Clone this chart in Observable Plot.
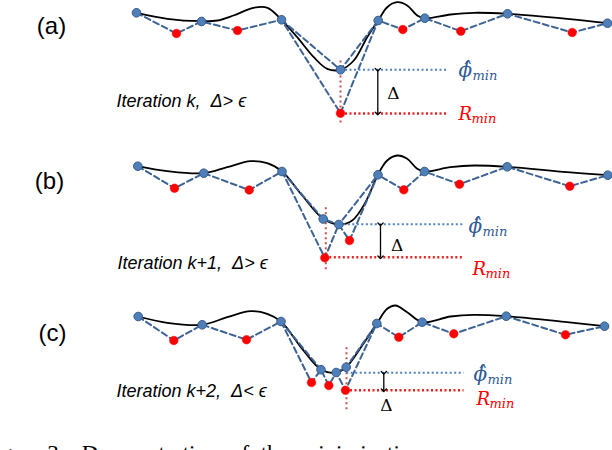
<!DOCTYPE html>
<html>
<head>
<meta charset="utf-8">
<script src="https://cdn.jsdelivr.net/npm/d3@7"></script>
<script src="https://cdn.jsdelivr.net/npm/@observablehq/plot@0.6"></script>
<style>
html,body{margin:0;padding:0;background:#fff;}
#chart{width:612px;height:450px;overflow:hidden;}
</style>
</head>
<body>
<div id="chart"></div>
<script>
// ---- data (diagram units: x to the right, y downward) ----
const curveA = [[136,12.3],[167,18.3],[200,20.7],[217,20],[233,15],[253,7.3],[267,7.3],[281,19.3],[296.7,36.7],[313.3,56.7],[326.7,68.3],[340,69.3],[353.3,60],[366.7,36.7],[377.7,20],[386.7,6.7],[396.7,1.7],[406.7,5],[416.7,15],[424.3,17.7],[450,14],[473.3,12.3],[507,13.3],[566.7,18.3],[607,22.7]];
const curveB = [[137.3,165.7],[166.7,170.7],[203.3,172.7],[226.7,166.7],[250,160.7],[266.7,162.7],[281.7,171],[301.7,195],[322.7,218.3],[338.3,224],[351.7,220],[365,201.7],[377.3,174.3],[386.7,160],[396.7,155],[406.7,158.3],[416.7,168.3],[424.3,171],[450,166.7],[473.3,165],[506.7,166.3],[566.7,171.7],[607.3,174.7]];
const curveC = [[137.7,316],[166.7,322.3],[201.7,324.3],[226.7,316.7],[250,310.7],[266.7,313.3],[280.5,321],[301.7,348.3],[320.5,369],[335.7,372.3],[345.7,366.7],[361.7,345],[376.3,323],[386.7,308.3],[395,305],[406.7,311.7],[421.7,321.7],[450,316],[473.3,314.3],[505.7,315.7],[566.7,321.7],[604,325.7]];

const sawA = [[136,12.3],[176,33],[201,21],[237,30],[281,19.3],[340,112.7],[377.7,20],[402.3,29],[424.3,17.7],[460.3,30.7],[507,13.3],[571.7,32],[607,22.7]];
const interpA = [[281,19.3],[340,69.3],[377.7,20]];
const blueA = [[136,12.3],[201,21],[281,19.3],[340,69.3],[377.7,20],[424.3,17.7],[507,13.3],[607,22.7]];
const redA = [[176,33],[237,30],[340,112.7],[402.3,29],[460.3,30.7],[571.7,32]];

const sawB = [[137.3,165.7],[174,187.7],[203.3,172.7],[248.7,189.5],[281.5,171],[324.3,257.3],[338.3,224],[349,240],[377.5,174.3],[403.3,189.3],[424,171],[459,183.7],[506.7,166.3],[569.3,185.7],[607.3,174.7]];
const interpB = [[281.5,171],[322.7,218.5],[338.3,224],[377.5,174.3]];
const blueB = [[137.3,165.7],[203.3,172.7],[281.5,171],[322.7,218.5],[338.3,224],[377.5,174.3],[424,171],[506.7,166.3],[607.3,174.7]];
const redB = [[174,187.7],[248.7,189.5],[324.3,257.3],[349,240],[403.3,189.3],[459,183.7],[569.3,185.7]];

const sawC = [[137.7,316],[173.3,340],[201.7,324.3],[246,339.2],[280.5,321],[311,382],[320.5,369.2],[328.3,385],[335.7,372],[345,389.7],[376.3,323],[398.3,336.7],[421.7,321.7],[453.3,333.3],[505.7,315.7],[565,334.3],[604,325.7]];
const interpC1 = [[280.5,321],[320.5,369.2]];
const interpC2 = [[335.7,372],[345.7,366.7],[376.3,323]];
const blueC = [[137.7,316],[201.7,324.3],[280.5,321],[320.5,369.2],[335.7,372],[345.7,366.7],[376.3,323],[421.7,321.7],[505.7,315.7],[604,325.7]];
const redC = [[173.3,340],[246,339.2],[311,382],[328.3,385],[345,389.7],[398.3,336.7],[453.3,333.3],[565,334.3]];

// minimum markers per panel
const vLines = [[340,60,125],[325.3,206.7,271.7],[346,346.7,411.7]];
const phiLines = [[340,448,69.3],[338.3,463,223.8],[345.7,463,372.3]];
const rLines = [[340,448,113],[324.3,463,256.8],[345,463,389.7]];
const arrows = [[377.3,69.3,113],[380,223.8,256.8],[383.3,372.3,389.7]];

const panelLabels = ["(a)","(b)","(c)"];
const panelLabelPos = [[51,33],[49,188],[52,340]];
const iterLabels = ["Iteration k,  \u0394> \u03f5","Iteration k+1,  \u0394> \u03f5","Iteration k+2,  \u0394< \u03f5"];
const iterPos = [[116,106],[117,268],[116,396]];
const deltaPos = [[393,93],[396.7,245],[386,405]];
const phiPos = [[458,76],[468,232],[473,380]];
const rPos = [[458,119],[472,274],[476,404]];
const caption = "Figure 3.   Demonstration  of  the  minimization";

const X = d => d[0], Y = d => d[1];
const dashCol = "#3d6394", blueFill = "#4f7fb8", blueEdge = "#36598a";
const dash = {x: X, y: Y, stroke: dashCol, strokeWidth: 2, strokeDasharray: "6,3.5"};
const curve = {x: X, y: Y, curve: "catmull-rom", stroke: "#000", strokeWidth: 1.8};

const marks = [];
for (const c of [curveA, curveB, curveC]) marks.push(Plot.line(c, curve));
for (const s of [sawA, interpA, sawB, interpB, sawC, interpC1, interpC2]) marks.push(Plot.line(s, dash));
marks.push(
  Plot.link(vLines, {x1: d=>d[0], x2: d=>d[0], y1: d=>d[1], y2: d=>d[2], stroke: "#c9504b", strokeWidth: 2, strokeDasharray: "2,3"}),
  Plot.link(phiLines, {x1: d=>d[0], x2: d=>d[1], y1: d=>d[2], y2: d=>d[2], stroke: "#4f81bd", strokeWidth: 2, strokeDasharray: "2,2.5"}),
  Plot.link(rLines, {x1: d=>d[0], x2: d=>d[1], y1: d=>d[2], y2: d=>d[2], stroke: "#e8231f", strokeWidth: 2.4, strokeDasharray: "2,2.5"}),
  Plot.link(arrows, {x1: d=>d[0], x2: d=>d[0], y1: d=>d[1], y2: d=>d[2], stroke: "#000", strokeWidth: 1.3, markerStart: "arrow", markerEnd: "arrow"})
);
for (const b of [blueA, blueB, blueC]) marks.push(Plot.dot(b, {x: X, y: Y, r: 4.3, fill: blueFill, stroke: blueEdge, strokeWidth: 1}));
for (const r of [redA, redB, redC]) marks.push(Plot.dot(r, {x: X, y: Y, r: 4.3, fill: "#ff0000", stroke: "#ff0000", strokeWidth: 0.5}));

const idx = [0,1,2];
marks.push(
  Plot.text(idx, {x: i=>panelLabelPos[i][0], y: i=>panelLabelPos[i][1], text: i=>panelLabels[i], fontSize: 24, fontFamily: "Liberation Sans, Arial, sans-serif", fill: "#000", lineAnchor: "bottom", textAnchor: "middle"}),
  Plot.text(idx, {x: i=>iterPos[i][0], y: i=>iterPos[i][1], text: i=>iterLabels[i], fontSize: 18, fontStyle: "italic", fontFamily: "Liberation Sans, Arial, sans-serif", fill: "#000", lineAnchor: "bottom", textAnchor: "start"}),
  Plot.text(idx, {x: i=>deltaPos[i][0], y: i=>deltaPos[i][1], text: () => "\u0394", fontSize: 17, fontFamily: "DejaVu Serif, serif", fill: "#000", textAnchor: "middle"}),
  Plot.text(idx, {x: i=>phiPos[i][0], y: i=>phiPos[i][1], text: () => "\u03d5\u0302", fontSize: 20, fontStyle: "italic", fontWeight: i => i ? "bold" : "normal", fontFamily: "DejaVu Serif, serif", fill: "#2f5a96", lineAnchor: "bottom", textAnchor: "start"}),
  Plot.text(idx, {x: i=>phiPos[i][0] + 14, y: i=>phiPos[i][1] + 3, text: () => "min", fontSize: 13, fontStyle: "italic", fontWeight: i => i ? "bold" : "normal", fontFamily: "DejaVu Serif, serif", fill: "#2f5a96", lineAnchor: "bottom", textAnchor: "start"}),
  Plot.text(idx, {x: i=>rPos[i][0], y: i=>rPos[i][1], text: () => "R", fontSize: 18, fontStyle: "italic", fontFamily: "DejaVu Serif, serif", fill: "#ff0000", lineAnchor: "bottom", textAnchor: "start"}),
  Plot.text(idx, {x: i=>rPos[i][0] + 13, y: i=>rPos[i][1] + 3, text: () => "min", fontSize: 13, fontStyle: "italic", fontFamily: "DejaVu Serif, serif", fill: "#ff0000", lineAnchor: "bottom", textAnchor: "start"}),
  Plot.text([caption], {x: () => -19, y: () => 460, text: d => d, fontSize: 23, fontFamily: "Liberation Serif, serif", fill: "#000", lineAnchor: "bottom", textAnchor: "start", letterSpacing: "5.5px"})
);

const chart = Plot.plot({
  width: 612, height: 450, margin: 0,
  x: {domain: [0, 612], range: [0, 612], axis: null},
  y: {domain: [0, 450], range: [0, 450], axis: null},
  style: {background: "#fff", overflow: "visible"},
  marks
});
document.getElementById("chart").append(chart);
</script>
</body>
</html>
